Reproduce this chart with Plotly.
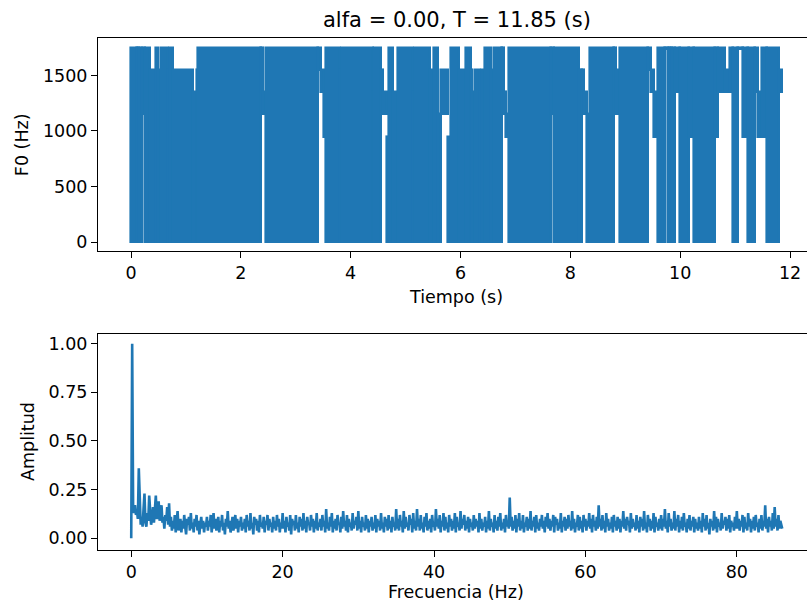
import plotly.graph_objects as go
import numpy as np

# ---- top panel: F0 track, read as blocks (start s, end s, low Hz, high Hz) ----
seg_start = [0.000,0.104,0.140,0.200,0.255,0.346,0.450,0.497,0.546,0.679,0.710,0.770,1.134,1.200,1.225,
             2.362,2.404,2.464,3.405,3.460,3.505,3.556,3.800,3.842,4.401,4.430,4.552,4.589,4.661,4.703,
             4.771,4.856,5.130,5.170,5.444,5.510,5.595,5.645,5.778,5.821,5.978,6.100,6.185,6.214,6.258,
             6.355,6.397,6.440,6.550,6.604,6.761,6.792,6.828,6.883,7.642,7.702,8.160,8.212,8.248,8.303,
             8.363,8.789,8.831,8.898,9.408,9.468,9.528,9.590,9.729,9.772,9.820,9.851,9.911,9.991,10.155,
             10.250,10.634,10.694,10.816,10.900,10.956,11.058,11.149,11.229,11.362,11.411,11.484,11.580,11.800]
seg_end = [0.104,0.140,0.200,0.255,0.346,0.450,0.497,0.546,0.679,0.710,0.770,1.134,1.200,1.225,2.362,
           2.404,2.464,3.405,3.460,3.505,3.556,3.800,3.842,4.401,4.430,4.552,4.589,4.661,4.703,4.771,
           4.856,5.130,5.170,5.444,5.510,5.595,5.645,5.778,5.821,5.978,6.100,6.185,6.214,6.258,6.355,
           6.397,6.440,6.550,6.604,6.761,6.792,6.828,6.883,7.642,7.702,8.160,8.212,8.248,8.303,8.363,
           8.789,8.831,8.898,9.408,9.468,9.528,9.590,9.729,9.772,9.820,9.851,9.911,9.991,10.155,10.250,
           10.634,10.694,10.816,10.900,10.956,11.058,11.149,11.229,11.362,11.411,11.484,11.580,11.800,11.850]
seg_low = [0,1550,0,1150,0,0,0,0,0,0,0,0,0,1350,0,
           1350,1150,0,1550,1350,950,0,0,0,0,0,1350,1150,0,0,
           0,0,0,0,0,0,0,1150,0,0,0,0,0,0,0,
           0,0,0,0,0,1350,1150,950,0,1150,0,0,1350,1150,0,
           0,1550,1150,0,1550,1350,950,0,1740,0,1740,0,1350,0,950,
           0,950,1350,1350,1350,0,1740,950,0,1350,950,950,0,1350]
seg_high = [1750,1750,1750,1750,1750,1550,1750,1550,1750,1550,1750,1550,1350,1550,1750,
            1750,1350,1750,1750,1550,1350,1750,1550,1750,1350,1750,1550,1350,950,1750,
            1350,1750,1350,1750,1550,1750,1150,1550,950,1750,1550,1750,1550,1350,1550,
            1350,1550,1750,1550,1750,1750,1350,1150,1750,1750,1750,1550,1550,1350,1150,
            1750,1750,1550,1750,1750,1550,1350,1750,1750,1750,1750,1750,1750,1750,1750,
            1750,1750,1750,1550,1750,1750,1750,1750,1750,1750,1350,1750,1750,1550]

# ---- bottom panel: normalised spectrum, 0.125 Hz steps from 0 to 86 Hz ----
freq_step = 0.125
amplitude = [
 # 0 - 5 Hz
 0.00,1.00,0.16,0.13,0.17,0.12,0.14,0.10,0.36,0.12,
 0.07,0.11,0.06,0.15,0.23,0.08,0.06,0.13,0.09,0.22,
 0.12,0.07,0.10,0.16,0.08,0.14,0.22,0.10,0.12,0.19,
 0.09,0.12,0.17,0.08,0.11,0.05,0.12,0.09,0.16,0.07,
 # 5 - 10 Hz
 0.18,0.06,0.11,0.04,0.09,0.05,0.12,0.03,0.08,0.14,
 0.04,0.07,0.10,0.03,0.09,0.05,0.12,0.06,0.02,0.10,
 0.07,0.11,0.04,0.13,0.05,0.08,0.03,0.10,0.06,0.12,
 0.04,0.09,0.02,0.07,0.11,0.05,0.09,0.03,0.08,0.06,
 # 10 - 15 Hz
 0.11,0.04,0.09,0.06,0.12,0.03,0.08,0.13,0.05,0.10,
 0.04,0.07,0.11,0.03,0.09,0.06,0.12,0.04,0.08,0.02,
 0.10,0.06,0.14,0.05,0.09,0.03,0.08,0.11,0.04,0.07,
 0.12,0.05,0.10,0.03,0.09,0.06,0.11,0.04,0.08,0.05,
 # 15 - 20 Hz
 0.10,0.03,0.12,0.06,0.09,0.04,0.13,0.05,0.08,0.02,
 0.11,0.07,0.10,0.04,0.09,0.03,0.12,0.06,0.08,0.05,
 0.11,0.03,0.09,0.07,0.12,0.04,0.10,0.06,0.08,0.03,
 0.11,0.05,0.09,0.04,0.12,0.06,0.10,0.03,0.08,0.05,
 # 20 - 25 Hz
 0.13,0.05,0.09,0.03,0.11,0.06,0.08,0.04,0.12,0.02,
 0.10,0.07,0.09,0.04,0.12,0.05,0.08,0.03,0.11,0.06,
 0.10,0.04,0.13,0.05,0.09,0.03,0.11,0.07,0.08,0.04,
 0.12,0.06,0.10,0.03,0.09,0.05,0.13,0.04,0.08,0.06,
 # 25 - 30 Hz
 0.10,0.04,0.12,0.06,0.09,0.03,0.15,0.05,0.08,0.04,
 0.11,0.06,0.13,0.03,0.09,0.05,0.10,0.04,0.12,0.07,
 0.08,0.03,0.11,0.05,0.14,0.06,0.09,0.04,0.12,0.03,
 0.10,0.06,0.08,0.04,0.13,0.05,0.09,0.07,0.11,0.04,
 # 30 - 35 Hz
 0.14,0.05,0.09,0.03,0.11,0.06,0.08,0.04,0.12,0.05,
 0.10,0.03,0.09,0.06,0.11,0.04,0.08,0.05,0.12,0.03,
 0.10,0.06,0.09,0.04,0.13,0.05,0.08,0.03,0.11,0.06,
 0.10,0.04,0.12,0.05,0.09,0.03,0.11,0.06,0.08,0.04,
 # 35 - 40 Hz
 0.15,0.05,0.10,0.04,0.12,0.06,0.09,0.03,0.14,0.05,
 0.11,0.06,0.08,0.04,0.12,0.07,0.10,0.03,0.13,0.05,
 0.09,0.04,0.15,0.06,0.10,0.04,0.12,0.05,0.08,0.03,
 0.11,0.06,0.13,0.04,0.09,0.05,0.10,0.03,0.12,0.06,
 # 40 - 45 Hz
 0.08,0.04,0.15,0.06,0.10,0.05,0.12,0.03,0.09,0.06,
 0.13,0.04,0.11,0.05,0.08,0.03,0.12,0.06,0.10,0.04,
 0.09,0.05,0.13,0.03,0.11,0.06,0.08,0.04,0.14,0.05,
 0.10,0.07,0.12,0.04,0.09,0.05,0.11,0.03,0.10,0.06,
 # 45 - 50 Hz
 0.08,0.04,0.12,0.05,0.10,0.06,0.09,0.03,0.13,0.05,
 0.10,0.04,0.08,0.06,0.11,0.03,0.09,0.05,0.14,0.04,
 0.10,0.06,0.08,0.03,0.12,0.05,0.09,0.04,0.11,0.06,
 0.13,0.04,0.08,0.05,0.10,0.03,0.12,0.06,0.09,0.05,
 # 50 - 55 Hz
 0.21,0.06,0.11,0.04,0.09,0.05,0.12,0.03,0.10,0.06,
 0.13,0.04,0.09,0.05,0.12,0.03,0.08,0.06,0.11,0.04,
 0.10,0.05,0.14,0.04,0.09,0.06,0.11,0.03,0.12,0.05,
 0.08,0.04,0.10,0.06,0.12,0.05,0.09,0.03,0.11,0.06,
 # 55 - 60 Hz
 0.13,0.05,0.10,0.04,0.09,0.06,0.12,0.03,0.11,0.07,
 0.10,0.04,0.08,0.05,0.13,0.03,0.09,0.06,0.11,0.04,
 0.10,0.05,0.12,0.06,0.09,0.04,0.14,0.05,0.10,0.03,
 0.08,0.06,0.12,0.04,0.11,0.05,0.09,0.03,0.12,0.06,
 # 60 - 65 Hz
 0.10,0.04,0.09,0.06,0.13,0.05,0.10,0.03,0.12,0.06,
 0.09,0.04,0.11,0.05,0.17,0.06,0.10,0.04,0.12,0.05,
 0.09,0.03,0.13,0.06,0.10,0.04,0.08,0.05,0.11,0.03,
 0.12,0.06,0.09,0.04,0.11,0.05,0.10,0.03,0.09,0.06,
 # 65 - 70 Hz
 0.14,0.05,0.10,0.04,0.11,0.07,0.09,0.03,0.13,0.05,
 0.10,0.06,0.08,0.04,0.12,0.05,0.09,0.03,0.11,0.06,
 0.10,0.04,0.14,0.05,0.08,0.03,0.12,0.06,0.10,0.04,
 0.09,0.05,0.13,0.03,0.11,0.06,0.08,0.04,0.10,0.05,
 # 70 - 75 Hz
 0.12,0.04,0.10,0.06,0.15,0.05,0.09,0.03,0.13,0.06,
 0.10,0.04,0.08,0.05,0.14,0.04,0.10,0.06,0.12,0.03,
 0.09,0.05,0.11,0.04,0.13,0.06,0.08,0.03,0.10,0.05,
 0.12,0.04,0.09,0.06,0.11,0.03,0.10,0.05,0.08,0.04,
 # 75 - 80 Hz
 0.11,0.05,0.09,0.03,0.13,0.06,0.10,0.04,0.12,0.05,
 0.08,0.02,0.10,0.06,0.09,0.04,0.14,0.05,0.11,0.03,
 0.10,0.06,0.08,0.04,0.13,0.05,0.09,0.07,0.11,0.04,
 0.10,0.05,0.12,0.03,0.09,0.06,0.08,0.04,0.11,0.05,
 # 80 - 85 Hz
 0.14,0.05,0.10,0.04,0.09,0.06,0.12,0.03,0.11,0.05,
 0.08,0.04,0.13,0.06,0.10,0.03,0.09,0.05,0.11,0.04,
 0.12,0.06,0.08,0.03,0.10,0.05,0.12,0.04,0.09,0.06,
 0.17,0.05,0.10,0.03,0.11,0.06,0.09,0.04,0.13,0.05,
 # 85 - 86 Hz
 0.16,0.06,0.10,0.04,0.12,0.05,0.09,0.07,0.05]

title_text = "alfa = 0.00, T = 11.85 (s)"
top_xticks = [0, 2, 4, 6, 8, 10, 12]
top_yticks = [0, 500, 1000, 1500]
bot_xticks = [0, 20, 40, 60, 80]
bot_yticks = [0.0, 0.25, 0.5, 0.75, 1.0]

C0 = "#1f77b4"
FONT = "DejaVu Sans"

s0 = np.array(seg_start); s1 = np.array(seg_end)
lo = np.array(seg_low, dtype=float); hi = np.array(seg_high, dtype=float)
freqs = np.arange(len(amplitude)) * freq_step

fig = go.Figure()
fig.add_trace(go.Bar(x=(s0 + s1) / 2, y=hi - lo, base=lo, width=s1 - s0,
                     marker=dict(color=C0, line=dict(color=C0, width=2.6)),
                     xaxis="x", yaxis="y", showlegend=False, hoverinfo="skip"))
fig.add_trace(go.Scatter(x=freqs, y=amplitude, mode="lines",
                         line=dict(color=C0, width=2.6),
                         xaxis="x2", yaxis="y2", showlegend=False))

axis_common = dict(showgrid=False, zeroline=False, showline=True, linecolor="black", linewidth=1.1,
                   ticks="outside", ticklen=6, tickwidth=1.1, tickcolor="black",
                   tickfont=dict(family=FONT, size=17.5, color="black"))

fig.update_layout(
    width=807, height=604,
    margin=dict(l=98, r=0, t=38, b=54),
    paper_bgcolor="white", plot_bgcolor="white",
    barmode="overlay", bargap=0,
    xaxis=dict(domain=[0, 1], anchor="y", range=[-0.601, 12.309], tickvals=top_xticks,
               mirror=True, **axis_common),
    yaxis=dict(domain=[0.584, 1], anchor="x", range=[-81, 1837.5], tickvals=top_yticks,
               **axis_common),
    xaxis2=dict(domain=[0, 1], anchor="y2", range=[-4.39, 89.27], tickvals=bot_xticks,
                mirror=True, **axis_common),
    yaxis2=dict(domain=[0, 0.422], anchor="x2", range=[-0.06, 1.05], tickvals=bot_yticks,
                tickformat=".2f", **axis_common),
    annotations=[
        dict(text=title_text, x=0.506, y=1.035, xref="paper", yref="paper", showarrow=False,
             xanchor="center", yanchor="middle", font=dict(family=FONT, size=21, color="black")),
        dict(text="Tiempo (s)", x=0.505, y=0.494, xref="paper", yref="paper", showarrow=False,
             xanchor="center", yanchor="middle", font=dict(family=FONT, size=17.5, color="black")),
        dict(text="Frecuencia (Hz)", x=0.505, y=-0.082, xref="paper", yref="paper", showarrow=False,
             xanchor="center", yanchor="middle", font=dict(family=FONT, size=17.5, color="black")),
        dict(text="F0 (Hz)", x=-0.107, y=0.791, xref="paper", yref="paper", showarrow=False,
             textangle=-90, xanchor="center", yanchor="middle",
             font=dict(family=FONT, size=17.5, color="black")),
        dict(text="Amplitud", x=-0.0987, y=0.211, xref="paper", yref="paper", showarrow=False,
             textangle=-90, xanchor="center", yanchor="middle",
             font=dict(family=FONT, size=17.5, color="black")),
    ],
)

fig.write_html("out.html")
